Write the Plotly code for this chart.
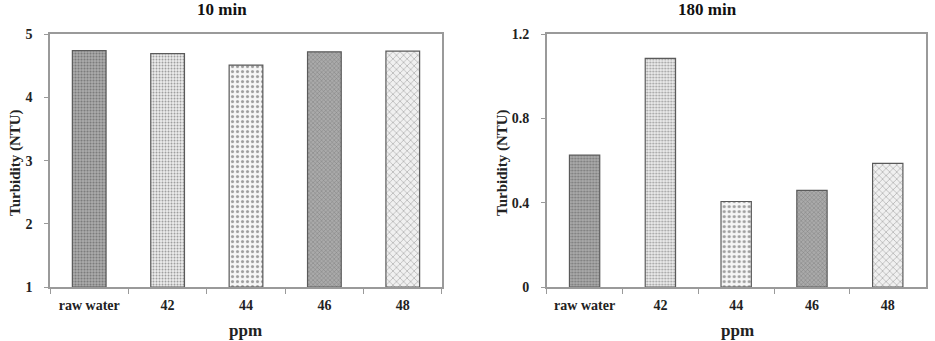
import plotly.graph_objects as go

categories = ["raw water", "42", "44", "46", "48"]
turbidity_10min = [4.74, 4.69, 4.51, 4.72, 4.73]
turbidity_180min = [0.626, 1.085, 0.406, 0.459, 0.587]
titles = ["10 min", "180 min"]

bg_colors = ["#adadad", "#eeeeee", "#f6f6f6", "#aaaaaa", "#f0f0f0"]
pat_shapes = [".", ".", ".", "x", "x"]
pat_fg = ["#8a8a8a", "#cccccc", "#858585", "#8a8a8a", "#c2c2c2"]
pat_size = [3, 3, 5, 3, 5]
pat_sol = [0.4, 0.35, 0.3, 0.25, 0.2]

FONT = "Liberation Serif"

fig = go.Figure()

for i, (vals, base, w) in enumerate([(turbidity_10min, 1, 0.43), (turbidity_180min, 0, 0.40)]):
    xa = "x" if i == 0 else "x2"
    ya = "y" if i == 0 else "y2"
    fig.add_trace(go.Bar(
        x=categories, y=[v - base for v in vals], base=base, width=w,
        xaxis=xa, yaxis=ya,
        marker=dict(color=bg_colors,
                    line=dict(color="#5a5a5a", width=1.2),
                    pattern=dict(shape=pat_shapes, fgcolor=pat_fg, size=pat_size,
                                 solidity=pat_sol, fillmode="overlay")),
        showlegend=False, hoverinfo="skip"))

axis_common = dict(showline=True, linecolor="#9a9a9a", linewidth=1.5, mirror=True,
                   showgrid=False, zeroline=False, automargin=False,
                   tickfont=dict(family=FONT, size=14, color="#222", weight="bold"),
                   ticks="outside", tickcolor="#9a9a9a", fixedrange=True)

fig.update_layout(
    width=935, height=341,
    margin=dict(l=0, r=0, t=0, b=0),
    paper_bgcolor="white", plot_bgcolor="white",
    xaxis=dict(domain=[0.0535, 0.4727], anchor="y", tickson="boundaries", ticklen=5,
               ticklabelstandoff=4, **axis_common),
    yaxis=dict(domain=[0.158, 0.900], anchor="x", range=[1, 5], dtick=1, ticklen=4,
               ticklabelstandoff=9, **axis_common),
    xaxis2=dict(domain=[0.5847, 0.990], anchor="y2", tickson="boundaries", ticklen=5,
                ticklabelstandoff=4, **axis_common),
    yaxis2=dict(domain=[0.158, 0.900], anchor="x2", range=[0, 1.2], dtick=0.4, ticklen=4,
                ticklabelstandoff=9, **axis_common),
)

ann = []
for t, xc in zip(titles, [222, 707]):
    ann.append(dict(text="<b>%s</b>" % t, x=xc / 935, y=1 - 10 / 341, xref="paper", yref="paper",
                    showarrow=False, xanchor="center", yanchor="middle",
                    font=dict(family=FONT, size=17, color="#111")))
for xc in [245, 737]:
    ann.append(dict(text="<b>ppm</b>", x=xc / 935, y=1 - 330 / 341, xref="paper", yref="paper",
                    showarrow=False, xanchor="center", yanchor="middle",
                    font=dict(family=FONT, size=17, color="#222")))
for xc in [15, 502]:
    ann.append(dict(text="<b>Turbidity (NTU)</b>", x=xc / 935, y=1 - 163 / 341, xref="paper", yref="paper",
                    showarrow=False, xanchor="center", yanchor="middle", textangle=-90,
                    font=dict(family=FONT, size=15, color="#222")))
fig.update_layout(annotations=ann)

fig.write_html("out.html")
